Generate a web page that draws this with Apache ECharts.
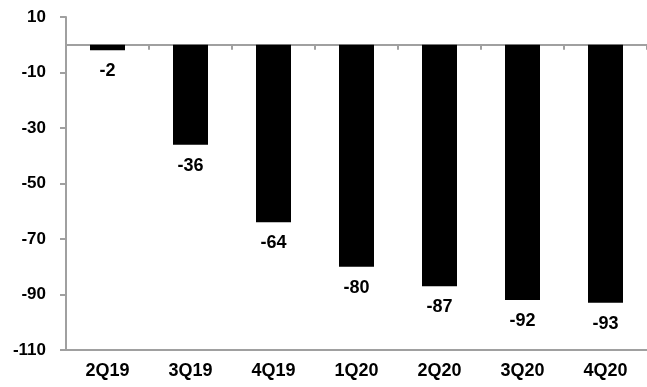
<!DOCTYPE html>
<html>
<head>
<meta charset="utf-8">
<style>
html,body{margin:0;padding:0;background:#fff;}
#chart{width:647px;height:387px;}
</style>
<script src="https://cdn.jsdelivr.net/npm/echarts@6/dist/echarts.min.js"></script>
</head>
<body>
<div id="chart"></div>
<script>
var categories = ['2Q19','3Q19','4Q19','1Q20','2Q20','3Q20','4Q20'];
var values = [-2, -36, -64, -80, -87, -92, -93];
var yMin = -110, yMax = 10, yInterval = 20;

var chart = echarts.init(document.getElementById('chart'));
var axisGray = '#a0a0a0';
var fontFam = 'Arial, "Liberation Sans", sans-serif';
chart.setOption({
  animation: false,
  grid: {left: 66, right: -7, top: 17, bottom: 37, containLabel: false},
  xAxis: [
    {
      type: 'category', data: categories, position: 'bottom',
      axisLine: {show: true, onZero: true, lineStyle: {color: axisGray, width: 2}},
      axisTick: {show: true, alignWithLabel: false, length: 5, lineStyle: {color: axisGray, width: 2}},
      axisLabel: {show: false}
    },
    {
      type: 'category', data: categories, position: 'bottom',
      axisLine: {show: true, onZero: false, lineStyle: {color: axisGray, width: 2}},
      axisTick: {show: false},
      axisLabel: {show: true, margin: 12, color: '#000', fontWeight: 700, fontSize: 18, fontFamily: fontFam}
    }
  ],
  yAxis: {
    type: 'value', min: yMin, max: yMax, interval: yInterval,
    axisLine: {show: true, lineStyle: {color: axisGray, width: 2}},
    axisTick: {show: true, length: 6, lineStyle: {color: axisGray, width: 2}},
    splitLine: {show: false},
    axisLabel: {margin: 20, color: '#000', fontWeight: 700, fontSize: 17, fontFamily: fontFam}
  },
  series: [{
    type: 'bar', data: values, xAxisIndex: 0,
    barWidth: 35,
    itemStyle: {color: '#000'},
    label: {show: true, position: 'bottom', distance: 12, color: '#000', fontWeight: 700, fontSize: 18, fontFamily: fontFam}
  }]
});
</script>
</body>
</html>
